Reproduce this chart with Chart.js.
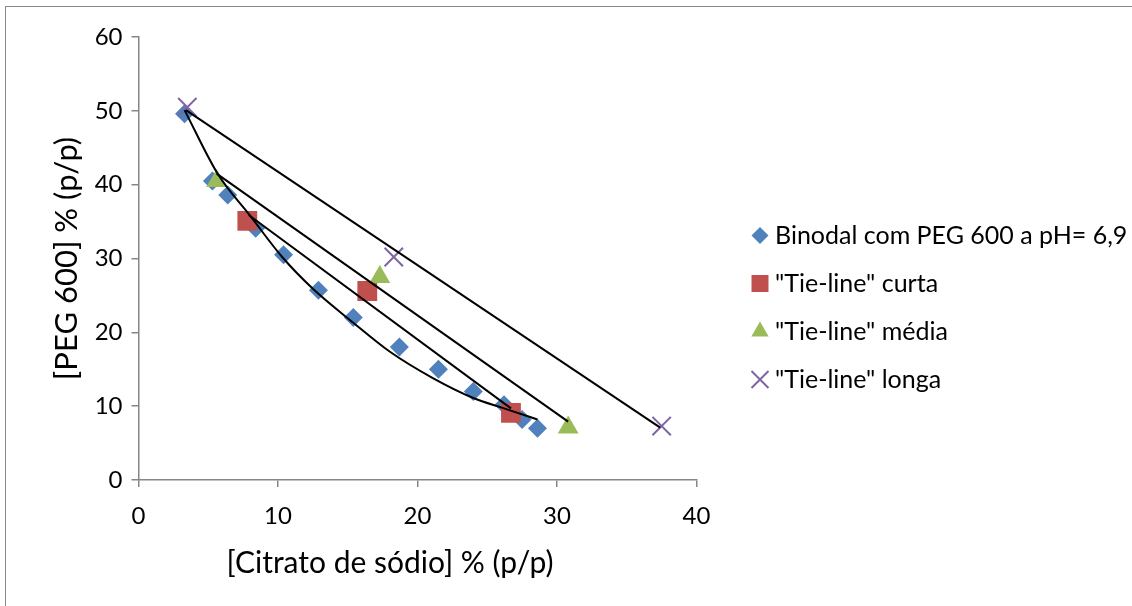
<!DOCTYPE html>
<html><head><meta charset="utf-8">
<script src="https://cdn.jsdelivr.net/npm/chart.js@4.4.0/dist/chart.umd.min.js"></script>
<style>
html,body{margin:0;padding:0;background:#fff;overflow:hidden;width:1132px;height:606px;}
#frame{position:absolute;left:5px;top:6px;width:1300px;height:800px;border:1.5px solid #8a8a8a;}
#wrap{position:absolute;left:0;top:0;width:1132px;height:606px;}
</style></head><body>
<div id="frame"></div>
<div id="wrap"><canvas id="c" width="1132" height="606"></canvas></div>
<script>
// ---- data ----
const seriesLabels = ['Binodal com PEG 600 a pH= 6,9', '"Tie-line" curta', '"Tie-line" média', '"Tie-line" longa'];
const binodalX = [3.3, 5.3, 6.4, 8.4, 10.4, 12.9, 15.4, 18.7, 21.5, 24.0, 26.2, 27.5, 28.6];
const binodalY = [49.6, 40.5, 38.6, 34.1, 30.5, 25.7, 22.0, 18.0, 15.0, 12.0, 10.2, 8.2, 7.0];
const curtaX = [7.8, 16.4, 26.7];
const curtaY = [35.1, 25.6, 9.1];
const mediaX = [5.6, 17.3, 30.8];
const mediaY = [40.5, 27.5, 7.1];
const longaX = [3.5, 18.3, 37.5];
const longaY = [50.5, 30.2, 7.3];
// fitted curves/lines as they appear in the picture
const binodalFitX = [3.3, 5.7, 8.0, 10.3, 12.5, 15.4, 18.0, 21.1, 24.0, 26.2, 28.6];
const binodalFitY = [50.1, 41.4, 35.8, 30.2, 25.9, 21.3, 17.4, 13.8, 11.1, 9.7, 8.2];
const curtaFitX = [7.9, 26.7];
const curtaFitY = [35.9, 9.7];
const mediaFitX = [5.6, 30.8];
const mediaFitY = [41.5, 7.9];
const longaFitX = [3.4, 37.4];
const longaFitY = [50.1, 7.1];
const xTickValues = [0, 10, 20, 30, 40];
const yTickValues = [0, 10, 20, 30, 40, 50, 60];
const xTitle = '[Citrato de sódio] % (p/p)';
const yTitle = '[PEG 600] % (p/p)';

const zip = (xs, ys) => xs.map((x, i) => ({x: x, y: ys[i]}));
const FONT = 'Lato, "Open Sans", sans-serif';
const colors = ['#4F81BD', '#C0504D', '#9BBB59', '#8064A2'];

const markerSets = [
  {label: seriesLabels[0], data: zip(binodalX, binodalY), pointStyle: 'rectRot', pointRadius: 9.5, borderWidth: 0, legendRadius: 8.5},
  {label: seriesLabels[1], data: zip(curtaX, curtaY), pointStyle: 'rect', pointRadius: 14, borderWidth: 0, legendRadius: 12},
  {label: seriesLabels[2], data: zip(mediaX, mediaY), pointStyle: 'triangle', pointRadius: 12, borderWidth: 0, legendRadius: 10},
  {label: seriesLabels[3], data: zip(longaX, longaY), pointStyle: 'crossRot', pointRadius: 13, borderWidth: 2, legendRadius: 12}
].map((d, i) => Object.assign(d, {
  backgroundColor: colors[i], borderColor: colors[i], pointBackgroundColor: colors[i],
  pointBorderColor: colors[i], pointBorderWidth: d.borderWidth, showLine: false, order: 5 - i
}));

const lineStyle = {pointRadius: 0, showLine: true, borderColor: '#000', borderWidth: 2, order: 0};
const fitSets = [
  Object.assign({label: 'fit binodal', data: zip(binodalFitX, binodalFitY), cubicInterpolationMode: 'monotone'}, lineStyle),
  Object.assign({label: 'fit curta', data: zip(curtaFitX, curtaFitY)}, lineStyle),
  Object.assign({label: 'fit media', data: zip(mediaFitX, mediaFitY)}, lineStyle),
  Object.assign({label: 'fit longa', data: zip(longaFitX, longaFitY)}, lineStyle)
];

function drawMarker(ctx, style, r, bw, x, y) {
  if (Chart.helpers && Chart.helpers.drawPoint) {
    Chart.helpers.drawPoint(ctx, {pointStyle: style, radius: r, borderWidth: bw, rotation: 0}, x, y);
  }
}

const excelLegend = {
  id: 'excelLegend',
  afterDraw(chart) {
    const ctx = chart.ctx;
    const area = chart.chartArea;
    ctx.save();
    const lx = area.right + 63.5;
    markerSets.forEach((ds, i) => {
      const cy = 235.5 + 48 * i;
      ctx.fillStyle = ds.backgroundColor;
      ctx.strokeStyle = ds.borderColor;
      ctx.lineWidth = ds.borderWidth;
      drawMarker(ctx, ds.pointStyle, ds.legendRadius, ds.borderWidth, lx, cy);
      ctx.fillStyle = '#000';
      ctx.font = '25px ' + FONT;
      ctx.textAlign = 'left';
      ctx.textBaseline = 'alphabetic';
      ctx.fillText(ds.label, lx + 15, cy + 8.5);
    });
    ctx.font = '30px ' + FONT;
    ctx.textAlign = 'center';
    ctx.textBaseline = 'alphabetic';
    ctx.fillStyle = '#000';
    ctx.fillText(xTitle, 390, 573);
    ctx.restore();
  }
};

const gridOpts = {display: true, drawOnChartArea: false, drawTicks: true, tickLength: 7, color: '#868686', lineWidth: 1.5};
const borderOpts = {display: true, color: '#868686', width: 1.5};

new Chart(document.getElementById('c'), {
  type: 'scatter',
  data: {datasets: fitSets.concat(markerSets)},
  options: {
    responsive: false,
    animation: false,
    devicePixelRatio: 1,
    layout: {padding: {left: 0, top: 37, right: 435.5, bottom: 0}},
    plugins: {legend: {display: false}, tooltip: {enabled: false}},
    events: [],
    scales: {
      x: {
        type: 'linear', min: 0, max: 40,
        afterBuildTicks: a => { a.ticks = xTickValues.map(v => ({value: v})); },
        afterFit: a => { a.height = 126; },
        ticks: {color: '#000', font: {family: FONT, size: 24}, padding: 15},
        grid: gridOpts, border: borderOpts,
        title: {display: false}
      },
      y: {
        type: 'linear', min: 0, max: 60,
        afterBuildTicks: a => { a.ticks = yTickValues.map(v => ({value: v})); },
        afterFit: a => { a.width = 138.5; },
        ticks: {color: '#000', font: {family: FONT, size: 24}, padding: 9},
        grid: gridOpts, border: borderOpts,
        title: {display: true, text: yTitle, color: '#000', font: {family: FONT, size: 31}, padding: {top: 48, bottom: 0}}
      }
    }
  },
  plugins: [excelLegend]
});
</script>
</body></html>
